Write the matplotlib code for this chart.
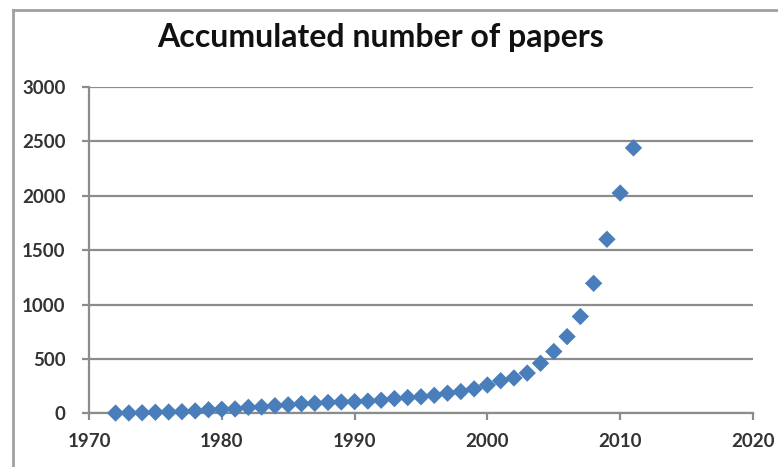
import matplotlib
matplotlib.use("Agg")
import matplotlib.pyplot as plt
from matplotlib.lines import Line2D

# Cumulative paper counts per year
years = list(range(1972, 2012))
papers = [2, 3, 5, 10, 12, 15, 22, 33, 37, 40,
          55, 58, 70, 78, 88, 92, 100, 104, 107, 112,
          120, 135, 145, 152, 165, 185, 200, 225, 260, 300,
          325, 370, 460, 568, 705, 890, 1195, 1600, 2025, 2440]

title = "Accumulated number of papers"
x_ticks = [1970, 1980, 1990, 2000, 2010, 2020]
y_ticks = [0, 500, 1000, 1500, 2000, 2500, 3000]

W, H = 778, 467
fig = plt.figure(figsize=(W / 100, H / 100), dpi=100)
fig.patch.set_facecolor("white")

ax = fig.add_axes([89 / W, 1 - 413.3 / H, (753 - 89) / W, (413.3 - 87) / H])

grid_col = "#8c8c8c"
text_col = "#333333"

ax.scatter(years, papers, marker="D", s=78, color="#4a7ebb",
           edgecolors="none", zorder=3, clip_on=False)

ax.set_xlim(1970, 2020)
ax.set_ylim(0, 3000)
ax.set_xticks(x_ticks)
ax.set_yticks(y_ticks)

ax.yaxis.grid(True, color=grid_col, linewidth=1.6)
ax.set_axisbelow(True)

for side in ("top", "right"):
    ax.spines[side].set_visible(False)
for side in ("left", "bottom"):
    ax.spines[side].set_color(grid_col)
    ax.spines[side].set_linewidth(1.6)

ax.tick_params(axis="x", direction="out", length=5, width=1.6,
               color=grid_col, pad=9)
ax.tick_params(axis="y", direction="out", length=5, width=1.6,
               color=grid_col, pad=12)

for lbl in ax.get_xticklabels() + ax.get_yticklabels():
    lbl.set_fontfamily("Lato")
    lbl.set_fontweight("bold")
    lbl.set_fontsize(13.5)
    lbl.set_color(text_col)

fig.text(381 / W, 1 - 37 / H, title, ha="center", va="center",
         fontfamily="Lato", fontweight="bold", fontsize=23, color="#111111")

# Outer chart frame (left and top edges)
frame_y = 1 - 10 / H
frame_x = 13 / W
fig.add_artist(Line2D([frame_x, frame_x], [0, frame_y], transform=fig.transFigure,
                      color="#a0a0a0", linewidth=2))
fig.add_artist(Line2D([frame_x, 1], [frame_y, frame_y], transform=fig.transFigure,
                      color="#a0a0a0", linewidth=2))

fig.savefig("out.png", dpi=100, facecolor="white")
